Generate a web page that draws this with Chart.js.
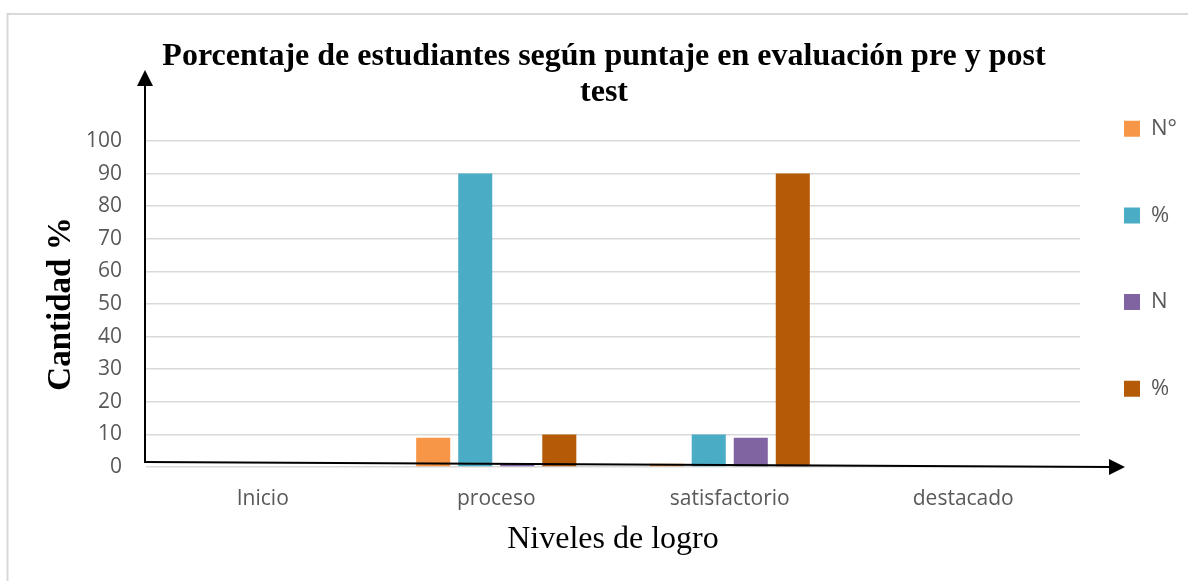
<!DOCTYPE html>
<html>
<head>
<meta charset="utf-8">
<script src="https://cdn.jsdelivr.net/npm/chart.js@4.4.1/dist/chart.umd.min.js"></script>
<style>
  html, body { margin: 0; padding: 0; background: #ffffff; overflow: hidden; }
  #wrap { position: relative; width: 1188px; height: 581px; }
</style>
</head>
<body>
<div id="wrap"><canvas id="c" width="1188" height="581"></canvas></div>
<script>
// ---- data ----
const categories = ['Inicio', 'proceso', 'satisfactorio', 'destacado'];
const seriesLabels = ['N°', '%', 'N', '%'];
const preCount = [0, 9, 1, 0];     // N° (pre test)
const prePct = [0, 90, 10, 0];     // % (pre test)
const postCount = [0, 1, 9, 0];    // N (post test)
const postPct = [0, 10, 90, 0];    // % (post test)
const seriesColors = ['#F79646', '#4BACC6', '#8064A2', '#B55A06'];
const yMin = 0, yMax = 100, yStep = 10;
const chartTitle = ['Porcentaje de estudiantes según puntaje en evaluación pre y post', 'test'];
const yTitle = 'Cantidad %';
const xTitle = 'Niveles de logro';

const seriesValues = [preCount, prePct, postCount, postPct];

Chart.defaults.font.family = "'Open Sans', sans-serif";
Chart.defaults.color = '#595959';

const decorations = {
  id: 'decorations',
  beforeDraw(chart) {
    const ctx = chart.ctx;
    ctx.save();
    ctx.strokeStyle = '#d9d9d9';
    ctx.lineWidth = 2;
    ctx.strokeRect(7.5, 14, chart.width + 20, chart.height + 20);
    ctx.restore();
  },
  afterLayout(chart) {
    const lg = chart.legend;
    if (!lg) return;
    const pad = lg.options.labels.padding;
    lg.left = 1124 - pad;
    lg.top = 117.7 - pad;
    lg.bottom = chart.height;
  },
  afterDatasetsDraw(chart) {
    const {ctx, chartArea} = chart;
    const x0 = chartArea.left - 1;
    const yBase = chartArea.bottom;
    ctx.save();
    ctx.strokeStyle = '#000';
    ctx.fillStyle = '#000';
    ctx.lineWidth = 2;
    // y axis arrow
    const tipY = chartArea.top - 71;
    ctx.beginPath();
    ctx.moveTo(x0, yBase - 4);
    ctx.lineTo(x0, tipY + 14);
    ctx.stroke();
    ctx.beginPath();
    ctx.moveTo(x0, tipY);
    ctx.lineTo(x0 - 8, tipY + 16);
    ctx.lineTo(x0 + 8, tipY + 16);
    ctx.closePath();
    ctx.fill();
    // x axis arrow (slightly sloping, as in the reference)
    const tipX = chartArea.right + 45;
    const y1 = yBase - 5, y2 = yBase;
    ctx.beginPath();
    ctx.moveTo(x0 - 1, y1);
    ctx.lineTo(tipX - 14, y2);
    ctx.stroke();
    ctx.beginPath();
    ctx.moveTo(tipX, y2);
    ctx.lineTo(tipX - 16, y2 - 8);
    ctx.lineTo(tipX - 16, y2 + 8);
    ctx.closePath();
    ctx.fill();
    ctx.restore();
  }
};

new Chart(document.getElementById('c'), {
  type: 'bar',
  data: {
    labels: categories,
    datasets: seriesValues.map((vals, i) => ({
      label: seriesLabels[i],
      data: vals,
      backgroundColor: seriesColors[i],
      borderWidth: 0,
      categoryPercentage: 0.72,
      barPercentage: 0.81
    }))
  },
  options: {
    responsive: false,
    animation: false,
    devicePixelRatio: 1,
    layout: { padding: { left: 20, right: 0, top: 0, bottom: 0 } },
    plugins: {
      title: {
        display: true,
        text: chartTitle,
        color: '#000',
        font: { family: "'Liberation Serif', 'Times New Roman', serif", size: 32, weight: 'bold', lineHeight: 1.125 },
        padding: { top: 39, bottom: 30 }
      },
      legend: {
        display: true,
        position: 'right',
        align: 'start',
        fullSize: true,
        maxWidth: 108,
        labels: {
          boxWidth: 16,
          boxHeight: 16,
          padding: 64.7,
          color: '#595959',
          font: { size: 22 }
        }
      },
      tooltip: { enabled: false }
    },
    scales: {
      x: {
        grid: { display: false, drawTicks: false },
        border: { display: false },
        ticks: { padding: 19, color: '#595959', font: { size: 21 } },
        title: {
          display: true,
          text: xTitle,
          color: '#000',
          font: { family: "'Liberation Serif', 'Times New Roman', serif", size: 32, lineHeight: 1.2 },
          padding: { top: 0, bottom: 22 }
        },
        afterFit(scale) { scale.height = 114; }
      },
      y: {
        min: yMin,
        max: yMax,
        grid: { color: '#d9d9d9', lineWidth: 1.5, drawTicks: false },
        border: { display: false },
        ticks: { stepSize: yStep, padding: 24, color: '#595959', font: { size: 21 } },
        title: {
          display: true,
          text: yTitle,
          color: '#000',
          font: { family: "'Liberation Serif', 'Times New Roman', serif", size: 33, weight: 'bold', lineHeight: 1.2 },
          padding: { top: 22, bottom: 0 }
        },
        afterFit(scale) { scale.width = 126; }
      }
    }
  },
  plugins: [decorations]
});
</script>
</body>
</html>
